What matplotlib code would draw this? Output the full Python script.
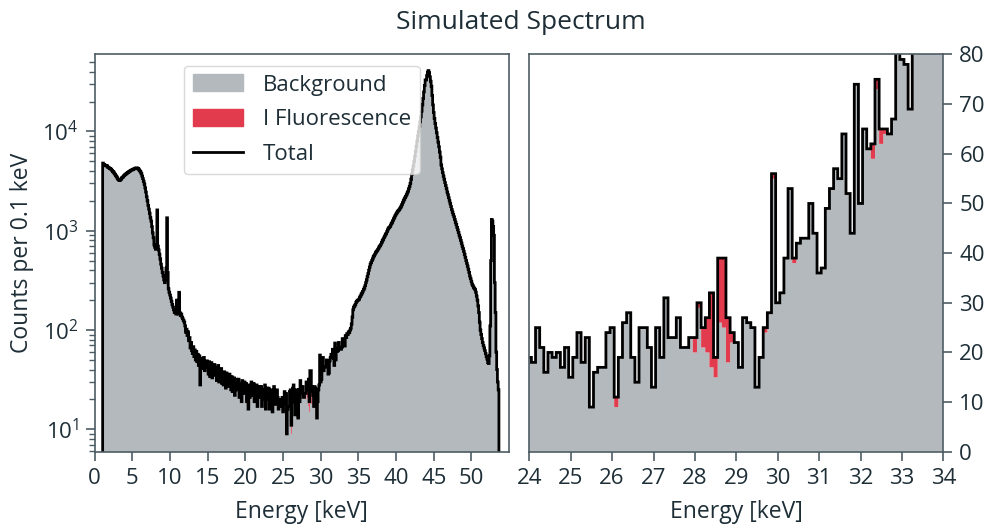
import numpy as np
import matplotlib.pyplot as plt
from matplotlib.patches import Patch
from matplotlib.lines import Line2D

# bin centres, 0.1 keV wide, 1.1 .. 53.6 keV
energy = np.round(np.arange(11, 537) * 0.1, 1)

# background counts, 1.1 - 23.9 keV
bg_low = [
    4800, 4650, 4600, 4550, 4500, 4550, 4400, 4350, 4300,
    4250, 4200, 4150, 4050, 3950, 3900, 3800, 3700, 3600, 3500,
    3400, 3300, 3250, 3200, 3250, 3300, 3400, 3450, 3500, 3600,
    3650, 3700, 3750, 3800, 3850, 3900, 3950, 4000, 4050, 4100,
    4100, 4150, 4200, 4200, 4250, 4300, 4300, 4250, 4200, 4100,
    4000, 3900, 3750, 3550, 3350, 3150, 2950, 2700, 2450, 2200,
    2000, 1800, 1650, 1500, 1350, 1250, 1100, 950, 850, 720,
    680, 650, 700, 1620, 700, 640, 580, 520, 460, 420,
    380, 350, 320, 300, 320, 420, 1350, 380, 260, 240,
    225, 210, 195, 180, 170, 160, 150, 150, 145, 200,
    150, 145, 240, 150, 140, 145, 135, 130, 125, 120,
    110, 95, 102, 88, 96, 78, 84, 66, 75, 62,
    58, 68, 54, 63, 50, 61, 48, 57, 44, 55,
    28, 52, 41, 50, 44, 53, 39, 47, 42, 49,
    44, 36, 48, 34, 42, 47, 33, 40, 37, 45,
    35, 42, 31, 39, 44, 30, 37, 34, 41, 29,
    35, 28, 38, 31, 26, 37, 30, 34, 27, 36,
    31, 25, 34, 24, 30, 33, 22, 29, 32, 25,
    27, 32, 21, 29, 26, 19, 31, 25, 23, 30,
    24, 29, 19, 27, 16, 28, 21, 26, 30, 22,
    25, 29, 19, 26, 22, 28, 17, 25, 21, 27,
    21, 27, 17, 25, 20, 24, 28, 16, 23, 26,
    20, 26, 16, 23, 19, 25, 15, 22, 27, 18,
]

# background counts, 24.0 - 34.0 keV
bg_mid = [
    19, 18, 25, 21, 16, 20, 19, 20, 17, 21,
    15, 19, 24, 18, 23, 9, 16, 17, 17, 24,
    25, 9, 19, 26, 28, 19, 14, 25, 25, 21,
    13, 25, 19, 31, 23, 23, 27, 21, 21, 23,
    20, 29, 21, 20, 17, 15, 26, 25, 18, 22,
    22, 17, 27, 26, 25, 13, 19, 24, 28, 55,
    30, 32, 39, 53, 38, 42, 43, 43, 50, 44,
    36, 37, 49, 53, 57, 55, 64, 52, 44, 74,
    50, 65, 61, 59, 73, 62, 64, 64, 67, 82,
    79, 78, 69, 88, 84, 92, 90, 96, 94, 100,
    104,
]

# iodine fluorescence on top of the background, 24.0 - 34.0 keV
fluor_mid = [
    0, 0, 0, 0, 0, 0, 0, 0, 0, 0,
    0, 0, 0, 0, 0, 0, 0, 0, 0, 0,
    0, 2, 0, 0, 0, 0, 0, 0, 0, 0,
    0, 0, 0, 0, 0, 0, 0, 0, 0, 0,
    3, 1, 4, 7, 15, 4, 13, 14, 9, 2,
    0, 0, 0, 0, 0, 0, 0, 1, 0, 1,
    0, 0, 0, 0, 1, 0, 0, 0, 0, 0,
    0, 0, 0, 0, 0, 0, 0, 0, 0, 0,
    0, 0, 0, 3, 2, 3, 1, 0, 0, 0,
    0, 0, 0, 0, 0, 0, 0, 0, 0, 0,
    0,
]

# background counts, 34.1 - 53.6 keV
bg_high = [
    115, 135, 160, 170, 175, 180, 190, 195, 200,
    200, 205, 215, 220, 230, 236, 245, 255, 265, 280,
    300, 320, 345, 370, 400, 430, 460, 480, 500, 520,
    545, 560, 580, 600, 615, 630, 650, 670, 690, 710,
    730, 760, 790, 820, 850, 880, 910, 940, 980, 1020,
    1060, 1080, 1100, 1140, 1180, 1220, 1270, 1320, 1370, 1420,
    1470, 1510, 1550, 1590, 1620, 1660, 1710, 1770, 1840, 1920,
    2000, 2080, 2150, 2220, 2300, 2400, 2500, 2650, 2800, 3000,
    3300, 3700, 4100, 4500, 5000, 5600, 6300, 7100, 8000, 9000,
    10000, 11200, 12500, 14000, 16000, 18500, 21500, 25000, 29000, 33000,
    33000, 36500, 39500, 41000, 39000, 35500, 32000, 28500, 23000, 18500,
    15500, 13500, 12000, 10800, 9700, 8700, 7800, 7000, 6200, 5500,
    4600, 4200, 3850, 3550, 3300, 3050, 2850, 2650, 2450, 2300,
    2150, 2000, 1870, 1750, 1640, 1540, 1450, 1380, 1300, 1220,
    1150, 1080, 1020, 960, 900, 850, 800, 750, 700, 660,
    620, 580, 540, 500, 470, 440, 410, 380, 350, 330,
    310, 290, 280, 270, 262, 255, 240, 220, 200, 175,
    150, 120, 100, 90, 82, 75, 70, 66, 62, 58,
    54, 51, 47, 46, 55, 110, 500, 1300, 1250, 1100,
    900, 300, 150, 60, 40, 30, 25,
]

background = np.concatenate([bg_low, bg_mid, bg_high]).astype(float)
fluor = np.zeros_like(background)
i0 = np.searchsorted(energy, 24.0)
fluor[i0:i0 + len(fluor_mid)] = fluor_mid
total = background + fluor
edges = np.append(energy - 0.05, energy[-1] + 0.05)

GREY = '#b3b9bc'
RED = '#e23b4e'
INK = '#1e2e37'
SPINE = '#4d5c64'

plt.rcParams['font.family'] = 'Open Sans'
plt.rcParams['mathtext.fontset'] = 'custom'
plt.rcParams['mathtext.rm'] = 'Open Sans'
plt.rcParams['text.color'] = INK
plt.rcParams['axes.labelcolor'] = INK
plt.rcParams['xtick.labelcolor'] = INK
plt.rcParams['ytick.labelcolor'] = INK
plt.rcParams['xtick.color'] = SPINE
plt.rcParams['ytick.color'] = SPINE
plt.rcParams['axes.edgecolor'] = SPINE
plt.rcParams['axes.linewidth'] = 1.2


def draw_spectrum(ax, base):
    ax.stairs(background, edges, baseline=base, fill=True, color=GREY, lw=0)
    ax.stairs(total, edges, baseline=background, fill=True, color=RED, lw=0)
    ax.stairs(total, edges, baseline=base, color='black', lw=2)


fig = plt.figure(figsize=(9.92, 5.29), dpi=100)
ax1 = fig.add_axes([0.0955, 0.146, 0.4177, 0.751])
ax2 = fig.add_axes([0.5336, 0.146, 0.4173, 0.751])

draw_spectrum(ax1, 0.1)
ax1.set_yscale('log')
ax1.set_xlim(0, 55)
ax1.set_ylim(5.95, 5.95e4)
ax1.set_xticks(range(0, 55, 5))
ax1.set_xlabel('Energy [keV]', fontsize=16.5, labelpad=8)
ax1.set_ylabel('Counts per 0.1 keV', fontsize=16.5, labelpad=6)

handles = [Patch(color=GREY, label='Background'),
           Patch(color=RED, label='I Fluorescence'),
           Line2D([], [], color='black', lw=2, label='Total')]
leg = ax1.legend(handles=handles, loc='upper center', fontsize=16,
                 handlelength=2.25, handleheight=0.77, labelspacing=0.62,
                 handletextpad=0.9, framealpha=0.8)
leg.get_frame().set_edgecolor('#d0d0d0')

draw_spectrum(ax2, 0)
ax2.set_xlim(24, 34)
ax2.set_ylim(0, 80)
ax2.set_xticks(range(24, 35))
ax2.set_yticks(range(0, 81, 10))
ax2.yaxis.tick_right()
ax2.set_xlabel('Energy [keV]', fontsize=16.5, labelpad=8)

for ax in (ax1, ax2):
    ax.tick_params(which='major', length=6.5, width=1.2, labelsize=16, pad=5)
    ax.tick_params(which='minor', length=4, width=1.0)

fig.suptitle('Simulated Spectrum', x=0.525, y=0.958, va='center', fontsize=19)

fig.savefig('out.png', dpi=100)
